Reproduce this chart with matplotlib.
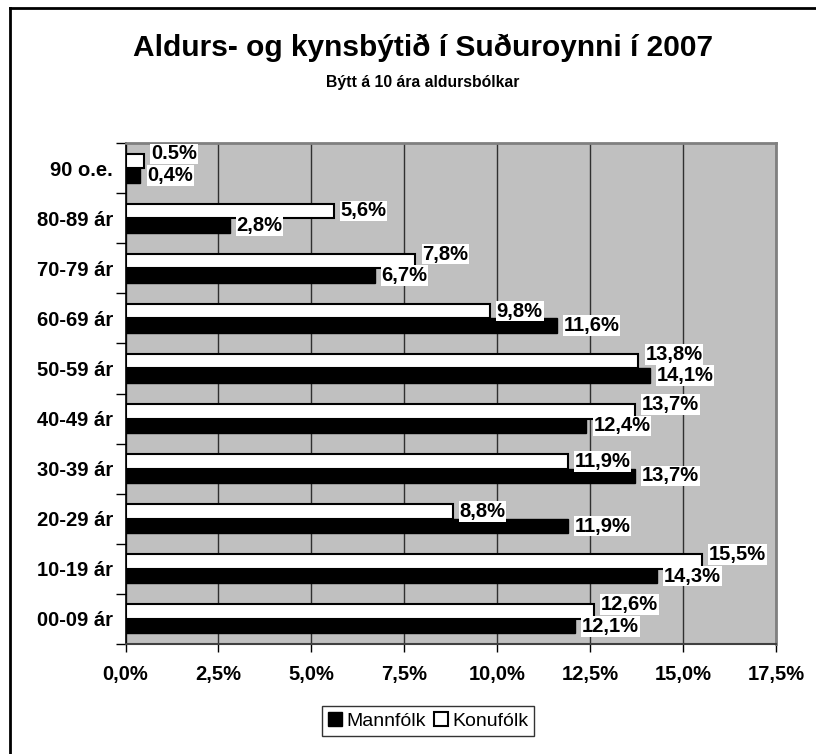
import matplotlib
matplotlib.use('Agg')
import matplotlib.pyplot as plt
from matplotlib.lines import Line2D
from matplotlib.patches import Patch
import numpy as np

#---DATA---
aldursbolkar = ['00-09 ár', '10-19 ár', '20-29 ár', '30-39 ár', '40-49 ár',
                '50-59 ár', '60-69 ár', '70-79 ár', '80-89 ár', '90 o.e.']
mannfolk = [12.1, 14.3, 11.9, 13.7, 12.4, 14.1, 11.6, 6.7, 2.8, 0.4]
konufolk = [12.6, 15.5, 8.8, 11.9, 13.7, 13.8, 9.8, 7.8, 5.6, 0.5]
mannfolk_labels = ['12,1%', '14,3%', '11,9%', '13,7%', '12,4%', '14,1%', '11,6%', '6,7%', '2,8%', '0,4%']
konufolk_labels = ['12,6%', '15,5%', '8,8%', '11,9%', '13,7%', '13,8%', '9,8%', '7,8%', '5,6%', '0.5%']
xticks = [0, 2.5, 5.0, 7.5, 10.0, 12.5, 15.0, 17.5]
xtick_labels = ['0,0%', '2,5%', '5,0%', '7,5%', '10,0%', '12,5%', '15,0%', '17,5%']

plt.rcParams['font.family'] = ['Liberation Sans', 'DejaVu Sans']

#---PREPARE TO PLOT---
fig = plt.figure(figsize=(8.16, 7.54), dpi=100)
ax = fig.add_axes([125.5/816, 1-644/754, (776-125.5)/816, (644-143)/754])

bar_h = 0.29
idx = np.arange(len(aldursbolkar))

#---PLOT---
bars_m = ax.barh(idx - bar_h/2, mannfolk, bar_h, color='black', edgecolor='black', linewidth=1, zorder=3)
bars_k = ax.barh(idx + bar_h/2, konufolk, bar_h, color='white', edgecolor='black', linewidth=1.5, zorder=3)

#---FORMATTING---
ax.set_facecolor('#c0c0c0')
ax.set_xlim(0, 17.5)
ax.set_ylim(-0.5, len(aldursbolkar) - 0.5)

for s in ['top', 'right']:
    ax.spines[s].set_color('#808080')
    ax.spines[s].set_linewidth(2)
ax.spines['left'].set_color('black')
ax.spines['left'].set_linewidth(1.2)
ax.spines['bottom'].set_color('#404040')
ax.spines['bottom'].set_linewidth(1.5)

ax.set_xticks(xticks)
ax.set_xticklabels(xtick_labels, fontsize=14.5, fontweight='bold')
ax.tick_params(axis='x', direction='out', length=6, width=1, pad=9, color='black')

#y ticks sit between the categories, labels on the centres
ax.set_yticks(idx)
ax.set_yticklabels(aldursbolkar, fontsize=14.5, fontweight='bold')
ax.set_yticks(np.arange(-0.5, len(aldursbolkar)), minor=True)
ax.tick_params(axis='y', which='major', length=0, pad=9)
ax.tick_params(axis='y', which='minor', length=7, width=1, color='black', direction='out')

ax.grid(visible=True, which='major', axis='x', color='#303030', linewidth=1, zorder=1)
ax.set_axisbelow(True)

#bar labels
def add_label(b, lab, z):
    return ax.annotate(lab, (b.get_width(), b.get_y() + b.get_height()/2), xytext=(5, 0),
                       textcoords='offset points', ha='left', va='center', fontsize=14.5,
                       fontweight='bold', bbox=dict(facecolor='white', edgecolor='none', pad=0.6),
                       zorder=z)

ann_m = [add_label(b, lab, 5) for b, lab in zip(bars_m, mannfolk_labels)]
ann_k = [add_label(b, lab, 6) for b, lab in zip(bars_k, konufolk_labels)]

#where the two labels of a group run into each other, lift the upper one a bit
fig.canvas.draw()
r = fig.canvas.get_renderer()
for am, ak in zip(ann_m, ann_k):
    bm = am.get_window_extent(r)
    bk = ak.get_window_extent(r)
    if bm.x1 > bk.x0 and bk.x1 > bm.x0:
        ak.xyann = (5, 5)

#---TITLES---
fig.text(0.518, 1-48/754, 'Aldurs- og kynsbýtið í Suðuroynni í 2007', ha='center', va='center',
         fontsize=21.5, fontweight='bold')
fig.text(0.518, 1-83/754, 'Býtt á 10 ára aldursbólkar', ha='center', va='center',
         fontsize=11.3, fontweight='bold')

#---LEGEND---
handles = [Patch(facecolor='black', edgecolor='black', label='Mannfólk'),
           Patch(facecolor='white', edgecolor='black', linewidth=1.5, label='Konufólk')]
leg = fig.legend(handles=handles, loc='center', bbox_to_anchor=(428/816, 1-721/754), ncol=2,
                 fontsize=14, frameon=True, fancybox=False, edgecolor='black',
                 handlelength=0.75, handleheight=0.75, handletextpad=0.2, columnspacing=0.4,
                 borderpad=0.3)
leg.get_frame().set_linewidth(1)

#outer chart frame (only left and top edges visible)
fig.add_artist(Line2D([10/816, 10/816], [0, 1-8/754], color='black', linewidth=2, transform=fig.transFigure))
fig.add_artist(Line2D([10/816, 1], [1-8/754, 1-8/754], color='black', linewidth=2, transform=fig.transFigure))

plt.savefig('out.png', dpi=100)
